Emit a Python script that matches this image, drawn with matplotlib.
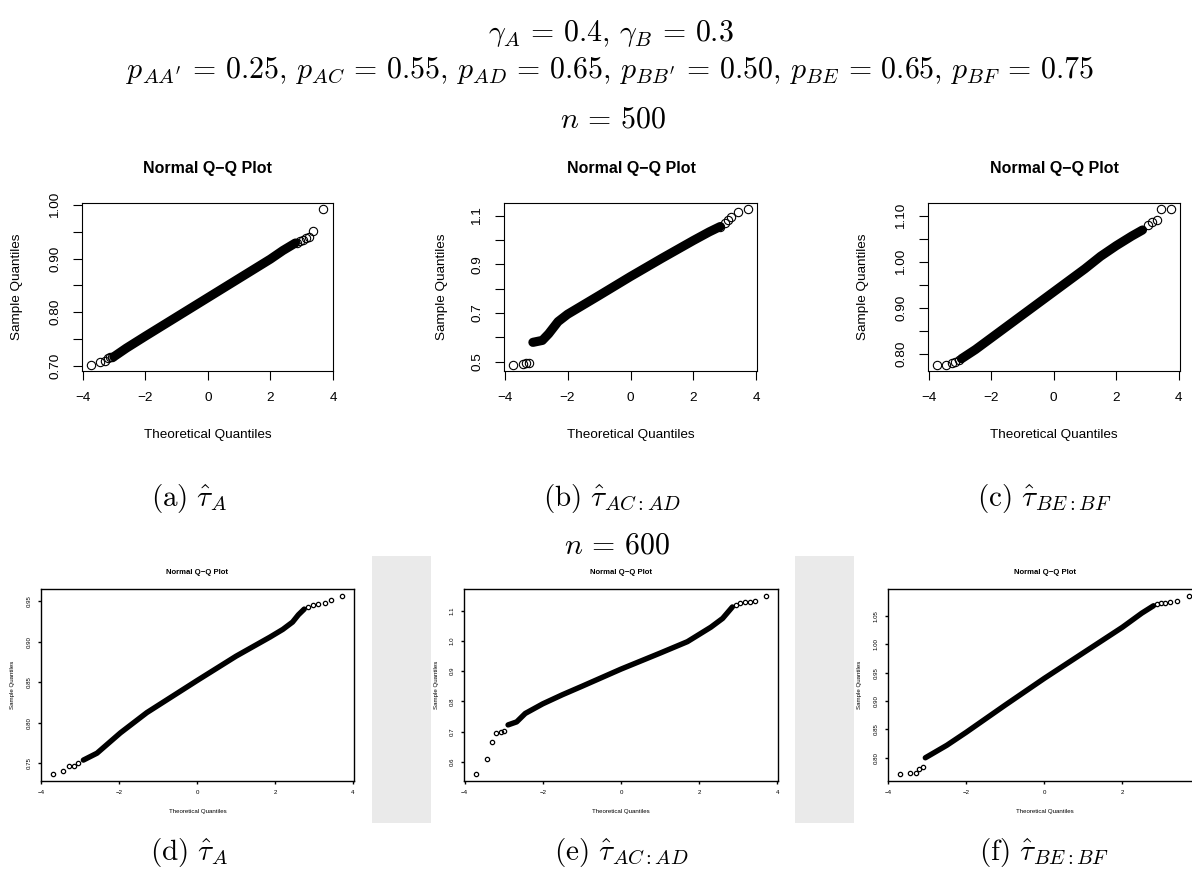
import matplotlib
matplotlib.use("Agg")
import matplotlib.pyplot as plt
from matplotlib.patches import Rectangle

W, H = 1192, 871
DPI = 100

plt.rcParams['mathtext.fontset'] = 'cm'
plt.rcParams['font.family'] = ['Liberation Sans', 'DejaVu Sans']

# ---------------------------------------------------------------
# Normal Q-Q data: dense central band + isolated tail points
# (theoretical quantile, sample quantile)
# ---------------------------------------------------------------
# (a) tau_A, n = 500
a_body_theo = [-3.0, -2.6, -2.0, -1.0, 0.0, 1.0, 2.0, 2.4, 2.8]
a_body_samp = [0.717, 0.733, 0.755, 0.791, 0.827, 0.863, 0.899, 0.915, 0.929]
a_tail_theo = [-3.72, -3.45, -3.29, -3.20, -3.12, -3.05, 2.85, 2.95, 3.05, 3.15, 3.22, 3.37, 3.68]
a_tail_samp = [0.702, 0.707, 0.709, 0.715, 0.716, 0.717, 0.929, 0.932, 0.935, 0.938, 0.941, 0.952, 0.992]

# (b) tau_AC:AD, n = 500
b_body_theo = [-3.1, -2.8, -2.6, -2.3, -2.0, -1.0, 0.0, 1.0, 2.0, 2.5, 2.85]
b_body_samp = [0.580, 0.588, 0.615, 0.665, 0.695, 0.772, 0.850, 0.925, 0.998, 1.033, 1.055]
b_tail_theo = [-3.72, -3.43, -3.33, -3.22, 2.85, 3.00, 3.11, 3.18, 3.43, 3.72]
b_tail_samp = [0.488, 0.490, 0.494, 0.497, 1.055, 1.068, 1.081, 1.095, 1.116, 1.126]

# (c) tau_BE:BF, n = 500
c_body_theo = [-2.95, -2.5, -2.0, -1.0, 0.0, 1.0, 1.5, 2.0, 2.5, 2.84]
c_body_samp = [0.790, 0.810, 0.835, 0.885, 0.935, 0.985, 1.012, 1.035, 1.056, 1.069]
c_tail_theo = [-3.72, -3.44, -3.25, -3.14, -3.04, 3.00, 3.15, 3.31, 3.42, 3.74]
c_tail_samp = [0.777, 0.777, 0.781, 0.783, 0.787, 1.080, 1.087, 1.091, 1.114, 1.114]

# (d) tau_A, n = 600
d_body_theo = [-2.92, -2.57, -1.97, -1.29, 0.0, 1.0, 1.87, 2.2, 2.45, 2.6, 2.75]
d_body_samp = [0.754, 0.7625, 0.7875, 0.8125, 0.852, 0.882, 0.9055, 0.915, 0.924, 0.933, 0.940]
d_tail_theo = [-3.71, -3.43, -3.28, -3.17, -3.07, 2.85, 2.98, 3.10, 3.28, 3.44, 3.73]
d_tail_samp = [0.737, 0.740, 0.747, 0.747, 0.751, 0.943, 0.945, 0.946, 0.948, 0.951, 0.956]

# (e) tau_AC:AD, n = 600
e_body_theo = [-2.89, -2.67, -2.45, -2.0, -1.5, -1.0, 0.0, 1.0, 1.7, 2.3, 2.6, 2.85]
e_body_samp = [0.722, 0.732, 0.760, 0.792, 0.822, 0.850, 0.907, 0.960, 0.998, 1.046, 1.075, 1.113]
e_tail_theo = [-3.72, -3.43, -3.29, -3.19, -3.08, -3.00, 2.95, 3.05, 3.18, 3.30, 3.44, 3.72]
e_tail_samp = [0.5596, 0.608, 0.664, 0.694, 0.700, 0.703, 1.118, 1.125, 1.128, 1.130, 1.134, 1.149]

# (f) tau_BE:BF, n = 600
f_body_theo = [-3.05, -2.5, -2.0, -1.0, 0.0, 1.0, 2.0, 2.5, 2.8]
f_body_samp = [0.800, 0.822, 0.845, 0.893, 0.940, 0.985, 1.030, 1.055, 1.068]
f_tail_theo = [-3.71, -3.44, -3.28, -3.20, -3.11, 2.90, 3.00, 3.10, 3.23, 3.40, 3.72]
f_tail_samp = [0.7716, 0.774, 0.7735, 0.781, 0.784, 1.071, 1.072, 1.073, 1.074, 1.077, 1.085]

# axis ticks
x_ticks = [-4, -2, 0, 2, 4]
x_labels = ["\u22124", "\u22122", "0", "2", "4"]
a_yticks = [0.70, 0.75, 0.80, 0.85, 0.90, 0.95, 1.00]
a_ylabels = ["0.70", "", "0.80", "", "0.90", "", "1.00"]
b_yticks = [0.5, 0.6, 0.7, 0.8, 0.9, 1.0, 1.1]
b_ylabels = ["0.5", "", "0.7", "", "0.9", "", "1.1"]
c_yticks = [0.80, 0.85, 0.90, 0.95, 1.00, 1.05, 1.10]
c_ylabels = ["0.80", "", "0.90", "", "1.00", "", "1.10"]
d_yticks = [0.75, 0.80, 0.85, 0.90, 0.95]
d_ylabels = ["0.75", "0.80", "0.85", "0.90", "0.95"]
e_yticks = [0.6, 0.7, 0.8, 0.9, 1.0, 1.1]
e_ylabels = ["0.6", "0.7", "0.8", "0.9", "1.0", "1.1"]
f_yticks = [0.80, 0.85, 0.90, 0.95, 1.00, 1.05]
f_ylabels = ["0.80", "0.85", "0.90", "0.95", "1.00", "1.05"]

captions = [r"$\mathrm{(a)}\ \hat{\tau}_{A}$",
            r"$\mathrm{(b)}\ \hat{\tau}_{AC:AD}$",
            r"$\mathrm{(c)}\ \hat{\tau}_{BE:BF}$",
            r"$\mathrm{(d)}\ \hat{\tau}_{A}$",
            r"$\mathrm{(e)}\ \hat{\tau}_{AC:AD}$",
            r"$\mathrm{(f)}\ \hat{\tau}_{BE:BF}$"]

fig = plt.figure(figsize=(W / DPI, H / DPI), dpi=DPI)
fig.patch.set_facecolor("white")


def fxy(x, y):
    return x / W, 1 - y / H


def add_box(x0, y0, x1, y1):
    return fig.add_axes([x0 / W, 1 - y1 / H, (x1 - x0) / W, (y1 - y0) / H])


def shade(x0, y0, x1, y1, color):
    fig.patches.append(Rectangle((x0 / W, 1 - y1 / H), (x1 - x0) / W, (y1 - y0) / H,
                                 transform=fig.transFigure, facecolor=color,
                                 edgecolor="none", zorder=0))


# faint background seal showing between the lower sub-figures
shade(372, 556, 431, 823, "#eaeaea")
shade(795, 556, 854, 823, "#eaeaea")

# styles for the two rows
TOP = dict(title_fs=11.5, tick_fs=9.7, lab_fs=9.7, tick_len=6.5, pad=8.5,
           band_lw=6.6, ms=6.0, mew=0.8, spine_lw=0.8)
BOT = dict(title_fs=5.6, tick_fs=4.4, lab_fs=4.4, tick_len=2.4, pad=4.2,
           band_lw=3.9, ms=3.1, mew=0.9, spine_lw=1.0)

panels = [
    # box (px), body, tails, yticks, ylabels, style, title y, xlabel y, ylabel x, centre x
    ((82, 203, 333, 371), a_body_theo, a_body_samp, a_tail_theo, a_tail_samp,
     a_yticks, a_ylabels, TOP, 168, 435, 17, 207.5, x_labels),
    ((504, 203, 757, 371), b_body_theo, b_body_samp, b_tail_theo, b_tail_samp,
     b_yticks, b_ylabels, TOP, 168, 435, 442, 631, x_labels),
    ((928, 203, 1180, 371), c_body_theo, c_body_samp, c_tail_theo, c_tail_samp,
     c_yticks, c_ylabels, TOP, 168, 435, 863, 1054, x_labels),
    ((41, 589, 354, 781), d_body_theo, d_body_samp, d_tail_theo, d_tail_samp,
     d_yticks, d_ylabels, BOT, 573, 811, 13, 197.5, x_labels),
    ((464, 589, 778, 781), e_body_theo, e_body_samp, e_tail_theo, e_tail_samp,
     e_yticks, e_ylabels, BOT, 573, 811, 436, 621, x_labels),
    ((888, 589, 1201, 781), f_body_theo, f_body_samp, f_tail_theo, f_tail_samp,
     f_yticks, f_ylabels, BOT, 573, 811, 859, 1044.5, x_labels[:4] + [""]),
]

for (box, bt, bs, tt, ts, yt, yl, st, ty, xly, ylx, cx, xl) in panels:
    ax = add_box(*box)
    ax.plot(bt, bs, color="black", lw=st["band_lw"],
            solid_capstyle="round", solid_joinstyle="round")
    ax.plot(tt, ts, "o", mfc="none", mec="black", ms=st["ms"], mew=st["mew"])
    ax.margins(x=0.04, y=0.04)
    ax.set_xticks(x_ticks)
    ax.set_xticklabels(xl)
    ax.set_yticks(yt)
    ax.set_yticklabels(yl, rotation=90, va="center")
    ax.tick_params(length=st["tick_len"], width=st["spine_lw"],
                   labelsize=st["tick_fs"], pad=st["pad"], direction="out")
    for sp in ax.spines.values():
        sp.set_linewidth(st["spine_lw"])
    fig.text(*fxy(cx, ty), "Normal Q\u2212Q Plot", ha="center", va="center",
             fontsize=st["title_fs"], fontweight="bold")
    fig.text(*fxy(cx, xly), "Theoretical Quantiles", ha="center", va="center",
             fontsize=st["lab_fs"])
    ymid = (box[1] + box[3]) / 2
    fig.text(*fxy(ylx, ymid), "Sample Quantiles", ha="center", va="center",
             rotation=90, fontsize=st["lab_fs"])

# headings (text positions are baselines)
HFS = 21.5
fig.text(*fxy(611, 41), r"$\gamma_A\,=\,0.4,\,\gamma_B\,=\,0.3$",
         ha="center", va="baseline", fontsize=HFS)
fig.text(*fxy(610, 78),
         r"$p_{AA'}\,=\,0.25,\,p_{AC}\,=\,0.55,\,p_{AD}\,=\,0.65,\,"
         r"p_{BB'}\,=\,0.50,\,p_{BE}\,=\,0.65,\,p_{BF}\,=\,0.75$",
         ha="center", va="baseline", fontsize=HFS)
fig.text(*fxy(613, 128), r"$n\,=\,500$", ha="center", va="baseline", fontsize=HFS)
fig.text(*fxy(617, 553), r"$n\,=\,600$", ha="center", va="baseline", fontsize=HFS)

cap_pos = [(189, 506), (612, 506), (1044, 506), (189, 860), (621, 860), (1044, 860)]
for txt, (x, y) in zip(captions, cap_pos):
    fig.text(*fxy(x, y), txt, ha="center", va="baseline", fontsize=21)

fig.savefig("out.png", dpi=DPI)
